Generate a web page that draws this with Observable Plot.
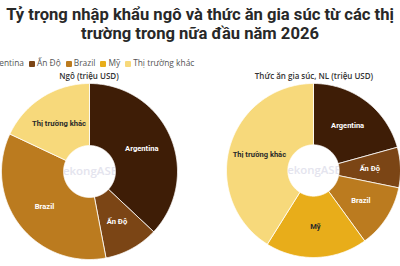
<!DOCTYPE html>
<html><head><meta charset="utf-8">
<script src="https://cdn.jsdelivr.net/npm/d3@7"></script>
<script src="https://cdn.jsdelivr.net/npm/@observablehq/plot@0.6"></script>
<style>
html,body{margin:0;padding:0;width:400px;height:266px;overflow:hidden;background:#fff;font-family:"Open Sans",sans-serif;}
#title{position:absolute;left:0;top:5px;width:400px;text-align:center;font-family:Roboto,sans-serif;font-weight:700;font-size:16.6px;line-height:19px;color:#282828;}
#legend{position:absolute;top:58px;left:-22px;display:flex;gap:5px;font-size:8.4px;line-height:10px;color:#555;align-items:center;white-space:nowrap}
.sw{display:inline-block;width:6px;height:6px;margin-right:2px;border-radius:1px;vertical-align:-1px}
.sub{position:absolute;top:70px;text-align:center;font-size:8px;font-weight:600;color:#333;white-space:nowrap}
.pie{position:absolute;top:83px}
</style></head>
<body>
<div id="title">Tỷ trọng nhập khẩu ngô và thức ăn gia súc từ các thị trường trong nữa đầu năm 2026</div>
<div id="legend"></div>
<div class="sub" id="sub0" style="left:39px;width:100px">Ngô (triệu USD)</div>
<div class="sub" id="sub1" style="left:214px;width:200px">Thức ăn gia súc, NL (triệu USD)</div>
<div class="pie" id="pie0" style="left:1px"></div>
<div class="pie" id="pie1" style="left:226px"></div>
<script>
// ---- data ----
const categories = ["Argentina", "Ấn Độ", "Brazil", "Mỹ", "Thị trường khác"];
const ngoValues  = [37, 10, 35, 0, 18];          // Ngô (triệu USD), share
const feedValues = [20.7, 7.5, 11.8, 18.9, 41.1]; // Thức ăn gia súc, NL (triệu USD)

// ---- styles ----
const colors = ["#3e1d06", "#7b4515", "#bb7b1f", "#e8ad1a", "#f7d97b"];
const labelColors = ["#fff", "#fff", "#fff", "#2a2a2a", "#2a2a2a"];
const SIZE = 176, INNER = 0.295, LABEL_R = (1 + INNER) / 2;

// legend
const legend = document.getElementById("legend");
categories.forEach((c, i) => {
  const s = document.createElement("span");
  s.innerHTML = `<span class="sw" style="background:${colors[i]}"></span>${c}`;
  legend.appendChild(s);
});

function donut(values) {
  const arcs = d3.pie().sort(null).value(d => d)(values);
  const pts = [], labels = [];
  arcs.forEach((a, i) => {
    if (a.endAngle - a.startAngle <= 0) return;
    const key = categories[i];
    const n = Math.max(2, Math.ceil((a.endAngle - a.startAngle) / 0.01));
    const outer = d3.range(n + 1).map(k => a.startAngle + (a.endAngle - a.startAngle) * k / n);
    outer.forEach(t => pts.push({key, x: Math.sin(t), y: Math.cos(t)}));
    outer.slice().reverse().forEach(t => pts.push({key, x: INNER * Math.sin(t), y: INNER * Math.cos(t)}));
    pts.push({key, x: Math.sin(a.startAngle), y: Math.cos(a.startAngle)});
    const m = (a.startAngle + a.endAngle) / 2;
    labels.push({key, x: LABEL_R * Math.sin(m), y: LABEL_R * Math.cos(m), c: labelColors[i]});
  });
  return Plot.plot({
    width: SIZE, height: SIZE, margin: 0,
    x: {domain: [-1, 1], axis: null},
    y: {domain: [-1, 1], axis: null},
    color: {domain: categories, range: colors},
    style: {overflow: "visible", background: "transparent"},
    marks: [
      Plot.text(["MekongASEAN"], {x: () => 0.04, y: () => 0, text: d => d, fill: "#e4e4ee", fontSize: 11.5, fontWeight: 600, fontFamily: "Open Sans"}),
      Plot.line(pts, {x: "x", y: "y", z: "key", fill: "key", stroke: "#fff", strokeWidth: 0.8, curve: "linear"}),
      Plot.text(labels, {x: "x", y: "y", text: "key", fill: d => d.c, fontSize: 7.6, fontWeight: 700, fontFamily: "Roboto"})
    ]
  });
}
document.getElementById("pie0").appendChild(donut(ngoValues));
document.getElementById("pie1").appendChild(donut(feedValues));
</script>
</body></html>
